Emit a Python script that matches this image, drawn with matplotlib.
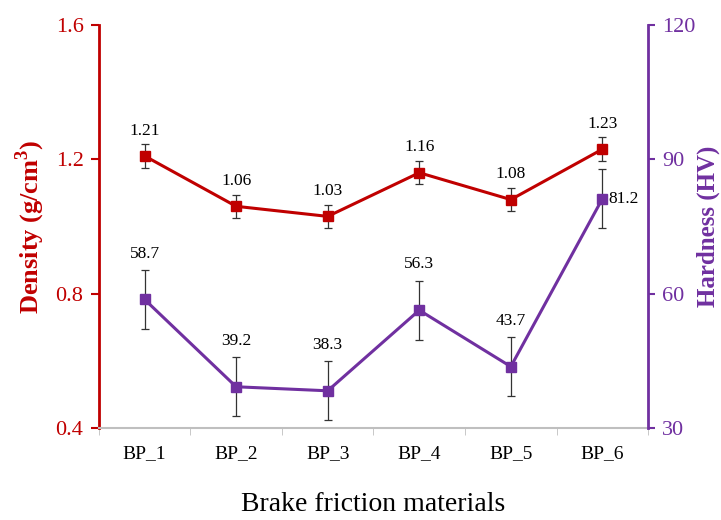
import matplotlib.pyplot as plt
import numpy as np

plt.rcParams["font.family"] = ["Liberation Serif", "DejaVu Serif"]
plt.rcParams["mathtext.fontset"] = "custom"
plt.rcParams["mathtext.rm"] = "Liberation Serif"
plt.rcParams["mathtext.bf"] = "Liberation Serif:bold"

materials = ["BP_1", "BP_2", "BP_3", "BP_4", "BP_5", "BP_6"]
density = [1.21, 1.06, 1.03, 1.16, 1.08, 1.23]
density_err = [0.035, 0.035, 0.035, 0.035, 0.035, 0.035]
hardness = [58.7, 39.2, 38.3, 56.3, 43.7, 81.2]
hardness_err = [6.6, 6.6, 6.6, 6.6, 6.6, 6.6]

RED = "#C00000"
PURPLE = "#7030A0"

fig = plt.figure(figsize=(7.21, 5.20), dpi=100)
ax = fig.add_axes([0.137, 0.177, 0.762, 0.775])
ax2 = ax.twinx()

x = np.arange(len(materials))

ax.errorbar(x, density, yerr=density_err, color=RED, lw=2.2, marker="s", ms=7,
            ecolor="#333333", elinewidth=0.9, capsize=3, capthick=0.9, zorder=3)
ax2.errorbar(x, hardness, yerr=hardness_err, color=PURPLE, lw=2.2, marker="s", ms=7,
             ecolor="#333333", elinewidth=0.9, capsize=3, capthick=0.9, zorder=3)

for xi, v, e in zip(x, density, density_err):
    ax.annotate(f"{v:.2f}", (xi, v + e), xytext=(0, 4), textcoords="offset points",
                ha="center", va="bottom", fontsize=12.5)

for i, (xi, v, e) in enumerate(zip(x, hardness, hardness_err)):
    if i == len(materials) - 1:
        ax2.annotate(f"{v:.1f}", (xi, v), xytext=(4, 0), textcoords="offset points",
                     ha="left", va="center", fontsize=12.5)
    else:
        ax2.annotate(f"{v:.1f}", (xi, v + e), xytext=(0, 6), textcoords="offset points",
                     ha="center", va="bottom", fontsize=12.5)

ax.set_xlim(-0.5, 5.5)
ax.set_ylim(0.4, 1.6)
ax2.set_ylim(30, 120)
ax.set_yticks([0.4, 0.8, 1.2, 1.6])
ax2.set_yticks([30, 60, 90, 120])

ax.set_xticks(x)
ax.set_xticklabels(materials, fontsize=14)
ax.set_xticks(np.arange(-0.5, 6.0, 1.0), minor=True)
ax.tick_params(axis="x", which="major", length=0, pad=12)
ax.tick_params(axis="x", which="minor", length=5, color="#BFBFBF", direction="out")

ax.tick_params(axis="y", colors=RED, labelsize=16, length=6, width=1.5, direction="out", pad=5)
ax2.tick_params(axis="y", colors=PURPLE, labelsize=16, length=5, width=1.5, direction="out", pad=5)

for a in (ax, ax2):
    a.spines["top"].set_visible(False)
ax.spines["left"].set_color(RED)
ax.spines["left"].set_linewidth(2)
ax.spines["right"].set_visible(False)
ax2.spines["left"].set_visible(False)
ax2.spines["right"].set_color(PURPLE)
ax2.spines["right"].set_linewidth(2)
ax.spines["bottom"].set_color("#BFBFBF")
ax.spines["bottom"].set_linewidth(1.5)
ax2.spines["bottom"].set_visible(False)

ax.set_ylabel(r"Density (g/cm$^\mathbf{3}$)", color=RED, fontsize=19, fontweight="bold", labelpad=6)
ax2.set_ylabel("Hardness (HV)", color=PURPLE, fontsize=18, fontweight="bold", labelpad=1)
ax.set_xlabel("Brake friction materials", fontsize=20, labelpad=22)

fig.savefig("out.png", dpi=100)
